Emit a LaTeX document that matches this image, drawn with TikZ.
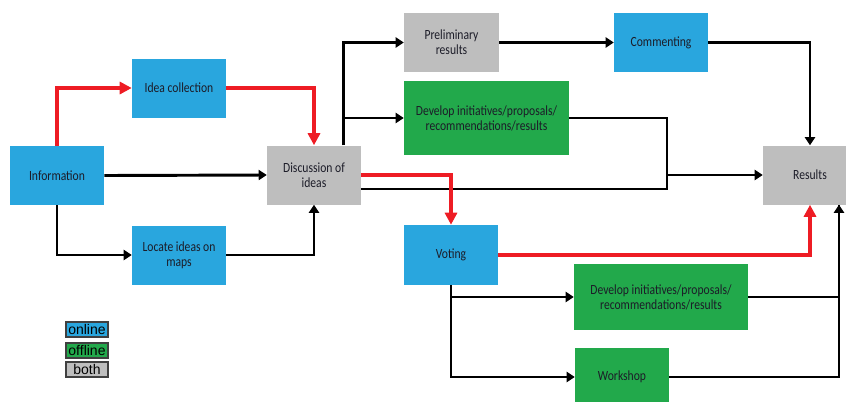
\documentclass[tikz,border=0pt]{standalone}
\usepackage{fontspec}
\newfontfamily\boxfont[FakeStretch=0.83]{Carlito}
\newfontfamily\keyfont{Liberation Sans}
\usetikzlibrary{arrows.meta}
\definecolor{onl}{HTML}{29A6DE}
\definecolor{offl}{HTML}{22A94B}
\definecolor{both}{HTML}{BEBEBE}
\definecolor{redline}{HTML}{EE1C24}
\definecolor{boxtext}{HTML}{1C1C28}
\tikzset{
  box/.style={minimum width=70.5pt,minimum height=44.25pt,inner sep=0pt,align=center,text=boxtext,
    font=\boxfont\fontsize{10.5pt}{11.25pt}\selectfont},
  wide/.style={box,minimum width=#1},
  key/.style={draw=black!75,line width=0.8pt,minimum width=31.5pt,minimum height=11.25pt,inner sep=0pt,
    font=\keyfont\fontsize{10.5pt}{11pt}\selectfont},
  flow/.style={line width=2.2pt,-{Triangle[length=6pt,width=7.5pt]}},
  plain/.style={line width=2.2pt},
  redflow/.style={line width=3pt,redline,-{Triangle[length=9pt,width=9pt]}}
}
\begin{document}
\begin{tikzpicture}[x=0.75pt,y=-0.75pt]
\useasboundingbox (0,0) rectangle (846,401);
\node[box,fill=onl] (info) at (57,175.5) {Information};
\node[box,fill=onl] (idea) at (179,88) {Idea collection};
\node[box,fill=onl] (locate) at (179,255) {Locate ideas on\\maps};
\node[box,fill=both] (disc) at (314,175) {Discussion of\\ideas};
\node[box,fill=both,minimum width=71.25pt] (prelim) at (451.5,42.5) {Preliminary\\results};
\node[wide=123.75pt,fill=offl,minimum height=55.5pt] (devA) at (486.5,118) {Develop initiatives/proposals/\\recommendations/results};
\node[box,fill=onl] (comm) at (661,42.5) {Commenting};
\node[box,fill=both] (res) at (810,175) {Results};
\node[box,fill=onl,minimum height=45pt] (vote) at (451,255) {Voting};
\node[wide=130.5pt,fill=offl,minimum height=49.5pt] (devB) at (661,297) {Develop initiatives/proposals/\\recommendations/results};
\node[box,fill=offl] (work) at (622,377) {Workshop};
\node[key,fill=onl] (kon) at (87,329.5) {online};
\node[key,fill=offl] (koff) at (87,350.5) {offline};
\node[key,fill=both] (kboth) at (87,369.5) {both};
\coordinate (dtop) at ([xshift=-13.5pt]disc.north east);
\coordinate (dlow) at ([yshift=-10.5pt]disc.east);
\coordinate (merge) at (667,175);
\coordinate (rfoot) at ([xshift=21.75pt]res.south);
\draw[redflow] (info.north) |- (idea.west);
\draw[redflow] (idea.east) -| (disc.north);
\draw[flow] (info.east) -- (disc.west);
\draw[flow] (info.south) |- (locate.west);
\draw[flow] (locate.east) -| (disc.south);
\draw[flow] (dtop) |- (prelim.west);
\draw[flow] (dtop) |- (devA.west);
\draw[flow] (prelim.east) -- (comm.west);
\draw[flow] (comm.east) -| (res.north);
\draw[plain] (dlow) -| (merge);
\draw[flow] (devA.east) -| (merge) -- (res.west);
\draw[redflow] (disc.east) -| (vote.north);
\draw[redflow] (vote.east) -| (res.south);
\draw[flow] (vote.south) |- (devB.west);
\draw[flow] (vote.south) |- (work.west);
\draw[plain] (devB.east) -| (rfoot);
\draw[flow] (work.east) -| (rfoot);
\end{tikzpicture}
\end{document}
